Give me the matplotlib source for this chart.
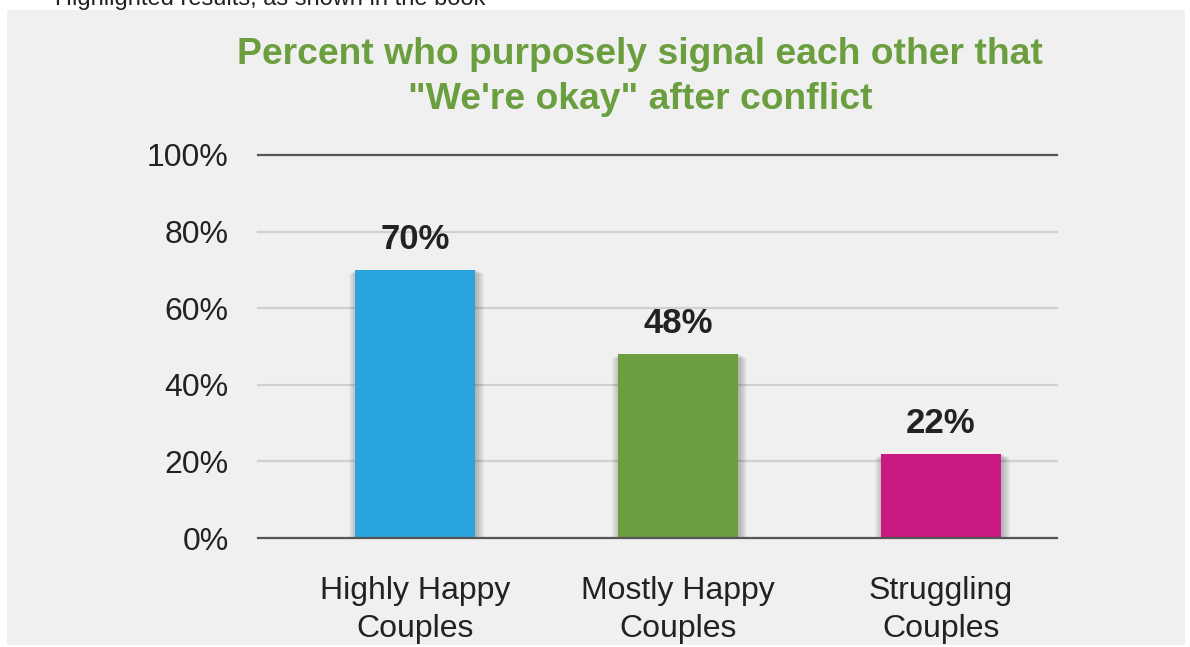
import numpy as np
import matplotlib.pyplot as plt
from matplotlib.patches import Rectangle

categories = ["Highly Happy\nCouples", "Mostly Happy\nCouples", "Struggling\nCouples"]
values = [70, 48, 22]
labels = ["70%", "48%", "22%"]
colors = ["#29a5de", "#6b9e3f", "#c7197f"]
yticks = [0, 20, 40, 60, 80, 100]
ytick_labels = ["0%", "20%", "40%", "60%", "80%", "100%"]

plt.rcParams['font.family'] = ['Liberation Sans', 'DejaVu Sans']

fig = plt.figure(figsize=(11.9, 6.47), dpi=100)
fig.patch.set_facecolor("white")
W, H = 1190, 647

# grey panel behind the chart
bg = fig.add_axes([0, 0, 1, 1], zorder=0)
bg.set_axis_off()
bg.set_xlim(0, W)
bg.set_ylim(H, 0)
bg.add_patch(Rectangle((7, 10), 1185 - 7, 645 - 10, facecolor="#f0f0f0", edgecolor="none"))
bg.text(55, 5, "Highlighted results, as shown in the book",
        fontsize=17, color="#222222", va="baseline", ha="left")

ax = fig.add_axes([258 / W, (H - 538) / H, (1057 - 258) / W, (538 - 155) / H], zorder=2)
ax.set_facecolor("none")
x = np.arange(len(categories))
ax.set_xlim(-0.597, 2.441)
ax.set_ylim(0, 100)

# gridlines
for t in yticks:
    dark = t in (0, 100)
    ax.axhline(t, color="#555555" if dark else "#d0d0d0", lw=1.6,
               zorder=4 if dark else 1, clip_on=False)

# soft shadow around bars
px_x = 1 / 263.0
px_y = 100 / 383.0
for k in range(1, 9):
    ax.bar(x + 1.5 * px_x, np.array(values) + k * px_y, width=0.456 + 2 * k * px_x,
           bottom=-k * px_y * 1.5, color="black", alpha=0.03, zorder=2,
           linewidth=0)

ax.bar(x, values, width=0.456, color=colors, zorder=3, linewidth=0)

for xi, v, lab in zip(x, values, labels):
    ax.text(xi, v + 5.5, lab, ha="center", va="baseline", fontsize=25,
            fontweight="bold", color="#222222")

ax.set_yticks(yticks)
ax.set_yticklabels(ytick_labels, fontsize=23, color="#222222")
ax.set_xticks(x)
ax.set_xticklabels(categories, fontsize=23, color="#222222", linespacing=1.38)
ax.tick_params(axis="y", length=0, pad=21)
ax.tick_params(axis="x", length=0, pad=27)
for s in ax.spines.values():
    s.set_visible(False)

bg.text(640, 77, "Percent who purposely signal each other that\n\"We're okay\" after conflict",
        ha="center", va="center", fontsize=26.8, fontweight="bold", color="#6b9e3f",
        linespacing=1.4)

fig.savefig("out.png", dpi=100)
